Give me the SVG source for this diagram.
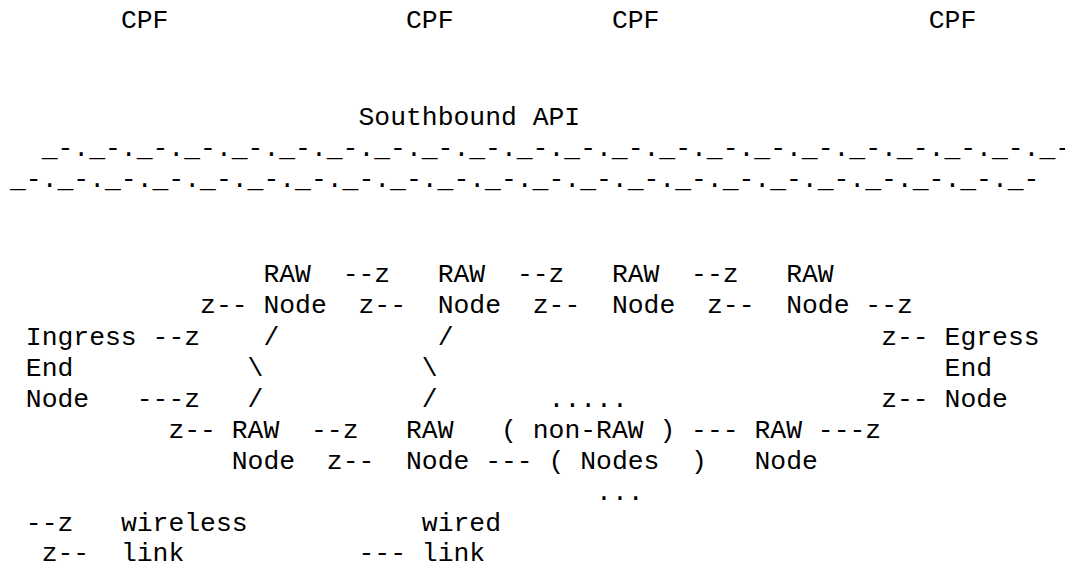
<svg xmlns="http://www.w3.org/2000/svg" width="1065" height="569" viewBox="0 0 1065 569" xml:space="preserve">
<style>
text{font-family:"Liberation Mono","Courier New",monospace;font-size:26.4px;fill:#000;white-space:pre}
</style>
<rect x="0" y="0" width="1065" height="569" fill="#fff"/>
<g id="cpf-1"><text x="120.88" y="28">CPF</text></g>
<g id="cpf-2"><text x="406" y="28">CPF</text></g>
<g id="cpf-3"><text x="611.92" y="28">CPF</text></g>
<g id="cpf-4"><text x="928.72" y="28">CPF</text></g>
<g id="southbound-api">
<text x="358.48" y="125">Southbound API</text>
<text x="41.68" y="156">_-._-._-._-._-._-._-._-._-._-._-._-._-._-._-._-._-._-._-._-._-._-</text>
<text x="10" y="187">_-._-._-._-._-._-._-._-._-._-._-._-._-._-._-._-._-._-._-._-._-._-</text>
</g>
<g id="raw-top-1"><text x="263.44" y="282">RAW</text><text x="263.44" y="313">Node</text></g>
<g id="raw-top-2"><text x="437.68" y="282">RAW</text><text x="437.68" y="313">Node</text></g>
<g id="raw-top-3"><text x="611.92" y="282">RAW</text><text x="611.92" y="313">Node</text></g>
<g id="raw-top-4"><text x="786.16" y="282">RAW</text><text x="786.16" y="313">Node</text></g>
<g id="ingress"><text x="25.84" y="344.5">Ingress</text><text x="25.84" y="375.5">End</text><text x="25.84" y="406.5">Node</text></g>
<g id="egress"><text x="944.56" y="344.5">Egress</text><text x="944.56" y="375.5">End</text><text x="944.56" y="406.5">Node</text></g>
<g id="raw-bottom-1"><text x="231.76" y="437.5">RAW</text><text x="231.76" y="468.5">Node</text></g>
<g id="raw-bottom-2"><text x="406" y="437.5">RAW</text><text x="406" y="468.5">Node</text></g>
<g id="raw-bottom-3"><text x="754.48" y="437.5">RAW</text><text x="754.48" y="468.5">Node</text></g>
<g id="non-raw">
<text x="548.56" y="406.5">.....</text>
<text x="501.04" y="437.5">( non-RAW )</text>
<text x="548.56" y="468.5">( Nodes  )</text>
<text x="596.08" y="499.5">...</text>
</g>
<g id="connectors">
<text x="342.64" y="282">--z</text>
<text x="516.88" y="282">--z</text>
<text x="691.12" y="282">--z</text>
<text x="200.08" y="313">z--</text>
<text x="358.48" y="313">z--</text>
<text x="532.72" y="313">z--</text>
<text x="706.96" y="313">z--</text>
<text x="865.36" y="313">--z</text>
<text x="152.56" y="344.5">--z</text>
<text x="263.44" y="344.5">/</text>
<text x="437.68" y="344.5">/</text>
<text x="881.2" y="344.5">z--</text>
<text x="247.6" y="375.5">\</text>
<text x="421.84" y="375.5">\</text>
<text x="136.72" y="406.5">---z</text>
<text x="247.6" y="406.5">/</text>
<text x="421.84" y="406.5">/</text>
<text x="881.2" y="406.5">z--</text>
<text x="168.4" y="437.5">z--</text>
<text x="310.96" y="437.5">--z</text>
<text x="691.12" y="437.5">---</text>
<text x="817.84" y="437.5">---z</text>
<text x="326.8" y="468.5">z--</text>
<text x="485.2" y="468.5">---</text>
</g>
<g id="legend">
<text x="25.84" y="530.5">--z</text>
<text x="120.88" y="530.5">wireless</text>
<text x="421.84" y="530.5">wired</text>
<text x="41.68" y="561">z--</text>
<text x="120.88" y="561">link</text>
<text x="358.48" y="561">---</text>
<text x="421.84" y="561">link</text>
</g>
</svg>
